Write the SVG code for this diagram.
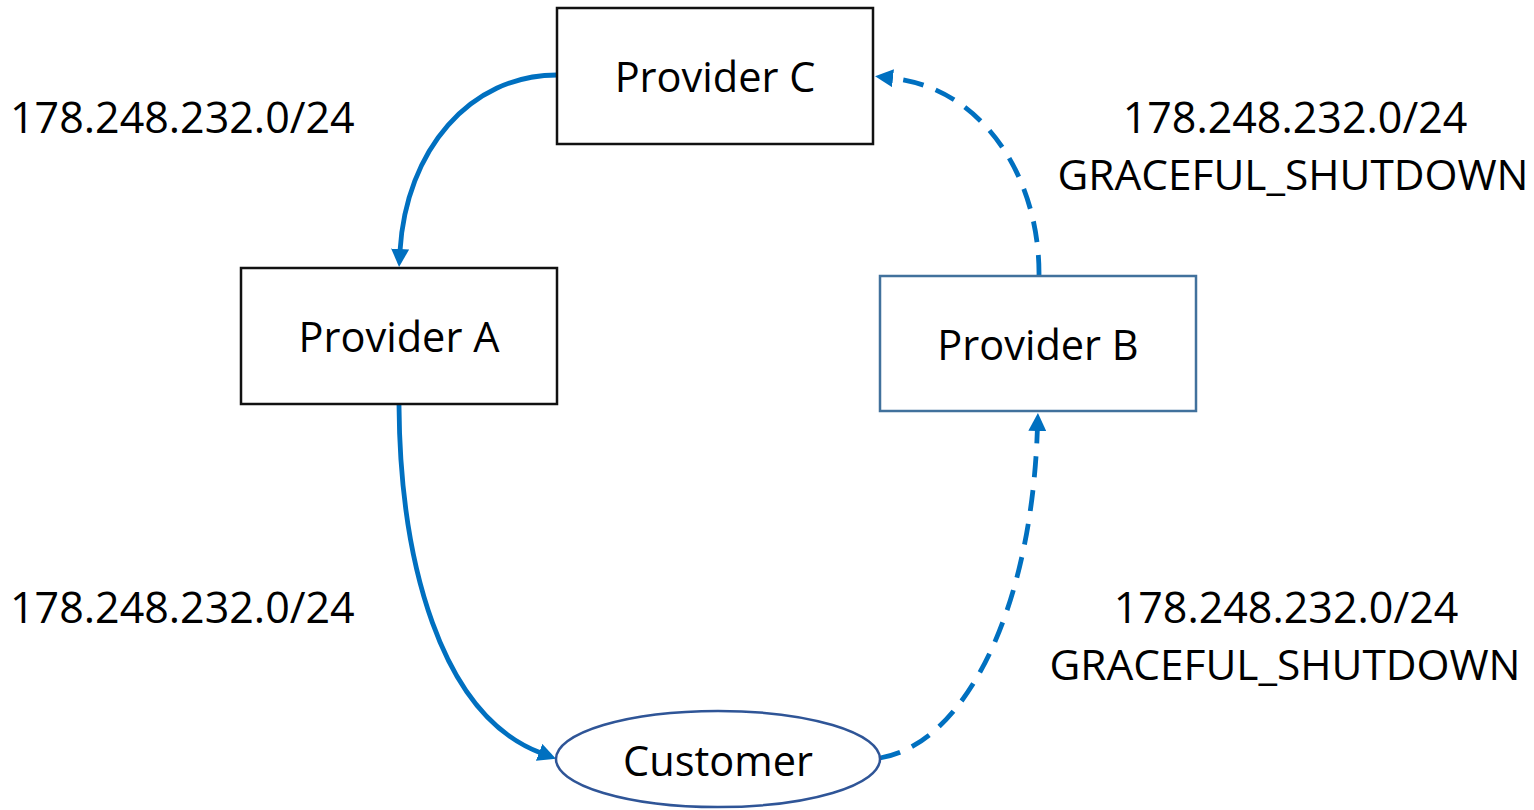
<svg xmlns="http://www.w3.org/2000/svg" width="1534" height="810" viewBox="0 0 1534 810">
  <style>
    .box { fill: #ffffff; stroke: #111111; stroke-width: 2.5; }
    .boxb { fill: #ffffff; stroke: #41719c; stroke-width: 2.5; }
    .ell { fill: #ffffff; stroke: #2f5597; stroke-width: 2.5; }
    .lbl { font-family: "Open Sans", "Liberation Sans", sans-serif; font-size: 41.5px; fill: #000000; }
    .route { font-size: 43px; }
    .flag { font-size: 42.4px; }
    .mid { text-anchor: middle; }
    .link { fill: none; stroke: #0070c0; stroke-width: 4.8; }
    .dash { stroke-dasharray: 21 13; }
  </style>
  <defs>
    <marker id="arrow" viewBox="0 0 18 18" markerWidth="18" markerHeight="18" refX="2" refY="9" orient="auto" markerUnits="userSpaceOnUse">
      <path d="M0,0 L18,9 L0,18 z" fill="#0070c0"/>
    </marker>
  </defs>

  <rect width="1534" height="810" fill="#ffffff"/>

  <!-- connectors -->
  <g id="connectors">
    <path class="link" d="M557,75 C470,75 406,150 400,251" marker-end="url(#arrow)"/>
    <path class="link" d="M399,405 C400,560 440,715 541,753" marker-end="url(#arrow)"/>
    <path class="link dash" d="M880,758 C960,745 1031,620 1037.4,429" marker-end="url(#arrow)"/>
    <path class="link dash" d="M1039,276 C1040,180 985,88 891,78" marker-end="url(#arrow)"/>
  </g>

  <!-- nodes -->
  <g id="provider-c">
    <rect class="box" x="557" y="8" width="316" height="136"/>
    <text class="lbl mid" x="715" y="92">Provider C</text>
  </g>
  <g id="provider-a">
    <rect class="box" x="241" y="268" width="316" height="136"/>
    <text class="lbl mid" x="399" y="352">Provider A</text>
  </g>
  <g id="provider-b">
    <rect class="boxb" x="880" y="276" width="316" height="135"/>
    <text class="lbl mid" x="1038" y="360">Provider B</text>
  </g>
  <g id="customer">
    <ellipse class="ell" cx="718" cy="759" rx="162" ry="48"/>
    <text class="lbl mid" x="718" y="776">Customer</text>
  </g>

  <!-- route labels -->
  <g id="labels">
    <text class="lbl route" x="10" y="133">178.248.232.0/24</text>
    <text class="lbl route" x="10" y="623">178.248.232.0/24</text>
    <text class="lbl route mid" x="1295" y="133">178.248.232.0/24</text>
    <text class="lbl flag mid" x="1293" y="190">GRACEFUL_SHUTDOWN</text>
    <text class="lbl route mid" x="1286" y="623">178.248.232.0/24</text>
    <text class="lbl flag mid" x="1285" y="680">GRACEFUL_SHUTDOWN</text>
  </g>
</svg>
